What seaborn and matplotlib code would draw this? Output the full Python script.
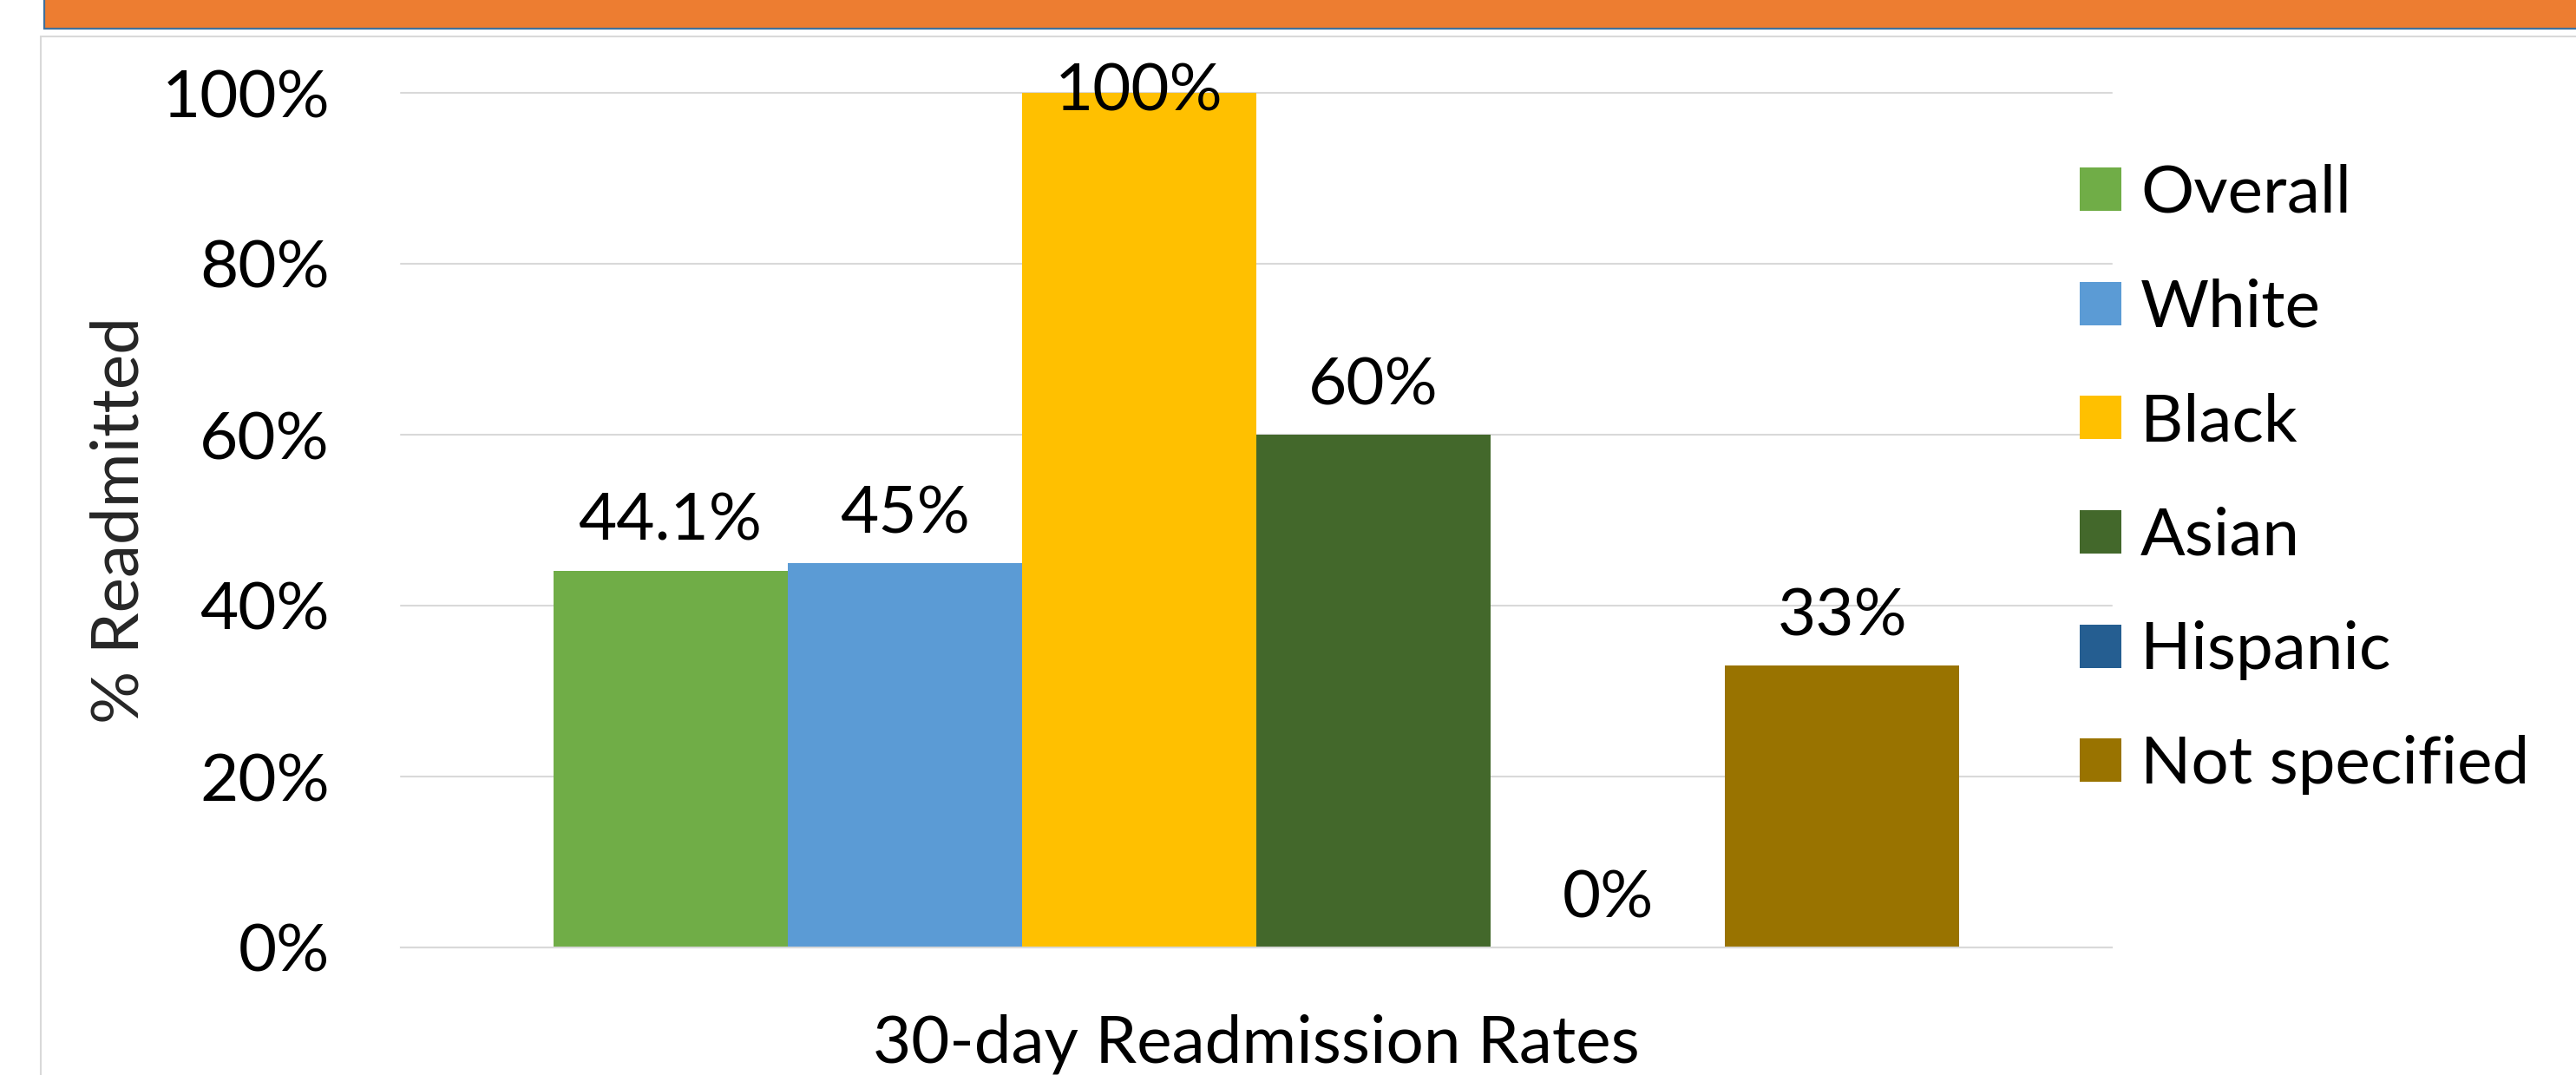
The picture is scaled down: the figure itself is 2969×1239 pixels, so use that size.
import matplotlib
matplotlib.use("Agg")
import matplotlib.pyplot as plt
import seaborn as sns
import pandas as pd
from matplotlib.patches import Rectangle
from matplotlib.ticker import FuncFormatter

# Readmission data
category = ["30-day Readmission Rates"]
groups = ["Overall", "White", "Black", "Asian", "Hispanic", "Not specified"]
rates = [44.1, 45, 100, 60, 0, 33]
colors = ["#70AD47", "#5B9BD5", "#FFC000", "#43682B", "#255E91", "#997300"]
y_ticks = [0, 20, 40, 60, 80, 100]

df = pd.DataFrame({
    "metric": category * len(groups),
    "group": groups,
    "rate": rates,
})

sns.set_style("white")
plt.rcParams["font.family"] = ["Lato", "DejaVu Sans"]
plt.rcParams["text.color"] = "black"
plt.rcParams["xtick.color"] = "black"
plt.rcParams["ytick.color"] = "black"

FS = 55
W, H = 2969, 1239
fig = plt.figure(figsize=(W / 100, H / 100), dpi=100)
fig.patch.set_facecolor("white")

# slide header strip and chart frame
fig.add_artist(Rectangle((51 / W, 1 - 33 / H), 1.2, 1.0, transform=fig.transFigure,
                         facecolor="#ED7D31", edgecolor="#41719C", lw=1.6, zorder=0))
fig.add_artist(Rectangle((47 / W, -0.2), 1.2, 1.2 - 42 / H, transform=fig.transFigure,
                         facecolor="none", edgecolor="#D9D9D9", lw=1.5, zorder=0))

ax = fig.add_axes([462 / W, 1 - 1092 / H, 1972 / W, 985 / H])

sns.barplot(data=df, x="metric", y="rate", hue="group", hue_order=groups,
            palette=colors, saturation=1, width=0.822, gap=0, linewidth=0,
            errorbar=None, ax=ax, legend=True)

ax.set_xlim(-0.5, 0.5)
ax.set_ylim(0, 100)
ax.set_yticks(y_ticks)
ax.yaxis.set_major_formatter(FuncFormatter(lambda v, _: f"{v:.0f}%"))

ax.set_axisbelow(True)
ax.yaxis.grid(True, color="#D9D9D9", lw=1.5)
ax.xaxis.grid(False)
for gl in ax.get_ygridlines():
    gl.set_clip_on(False)

for side in ["left", "right", "top"]:
    ax.spines[side].set_visible(False)
ax.spines["bottom"].set_color("#D9D9D9")
ax.spines["bottom"].set_linewidth(1.5)

ax.tick_params(axis="y", length=0, pad=59, labelsize=FS)
ax.tick_params(axis="x", length=0, pad=55, labelsize=FS)
ax.set_xlabel("")
ax.set_ylabel("% Readmitted", fontsize=FS, va="center")
ax.yaxis.set_label_coords((138 - 462) / 1972, 0.5)

# value labels above each bar
for container, v in zip(ax.containers, rates):
    rect = container.patches[0]
    x = rect.get_x() + rect.get_width() / 2
    dy = 25 if v < 90 else -15
    ax.annotate(f"{v:g}%", (x, rect.get_height()), xytext=(0, dy),
                textcoords="offset points", ha="center", va="baseline",
                fontsize=FS, annotation_clip=False)

sns.move_legend(ax, "center left", bbox_to_anchor=(2397 / W, 1 - 552.5 / H),
                bbox_transform=fig.transFigure, frameon=False, title=None,
                fontsize=FS, handlelength=0.628, handleheight=0.628,
                handletextpad=0.29, labelspacing=0.82, borderpad=0,
                borderaxespad=0)

fig.savefig("out.png", dpi=100)
